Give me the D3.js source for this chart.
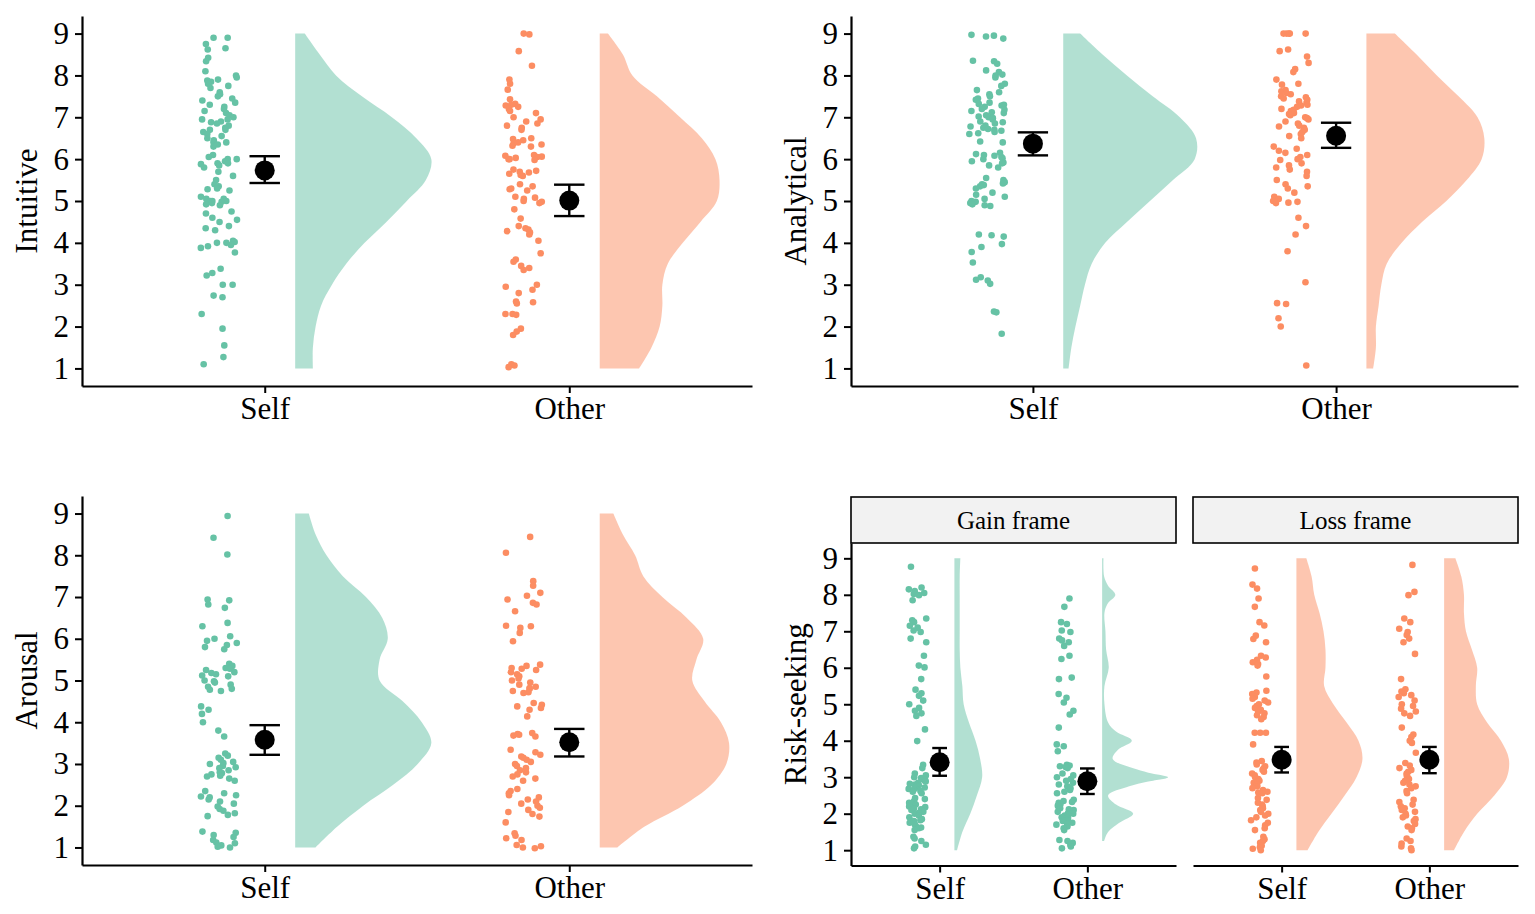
<!DOCTYPE html>
<html>
<head>
<meta charset="utf-8">
<script src="https://cdnjs.cloudflare.com/ajax/libs/d3/7.8.5/d3.min.js"></script>
<style>
  body { margin: 0; background: #fff; }
</style>
</head>
<body>
<div class="chart"></div>
<script>
const groups = ["Self", "Other"];
const yTicks = [1, 2, 3, 4, 5, 6, 7, 8, 9];
const densGrid = [1, 1.5, 2, 2.5, 3, 3.5, 4, 4.5, 5, 5.5, 6, 6.5, 7, 7.5, 8, 8.5, 9];
const serif = '"Liberation Serif", "Times New Roman", "DejaVu Serif", serif';

// raw scores
const intuitiveSelf = [8.9, 8.9, 8.75, 8.65, 8.62, 8.42, 8.34, 8.1, 8.0, 7.95, 7.9, 7.88, 7.85, 7.8, 7.75, 7.7, 7.6, 7.55, 7.5, 7.45, 7.4, 7.35, 7.3, 7.25, 7.2, 7.15, 7.1, 7.05, 7.0, 6.95, 6.95, 6.9, 6.88, 6.85, 6.8, 6.75, 6.7, 6.7, 6.65, 6.6, 6.55, 6.5, 6.45, 6.4, 6.4, 6.35, 6.3, 6.1, 6.05, 6.0, 6.0, 5.95, 5.9, 5.9, 5.88, 5.85, 5.8, 5.7, 5.6, 5.5, 5.4, 5.35, 5.3, 5.28, 5.25, 5.1, 5.05, 5.05, 5.0, 5.0, 5.0, 4.98, 4.95, 4.92, 4.9, 4.75, 4.7, 4.6, 4.55, 4.5, 4.4, 4.35, 4.3, 4.05, 4.02, 4.0, 4.0, 3.95, 3.92, 3.88, 3.77, 3.38, 3.28, 3.22, 3.0, 3.0, 2.74, 2.7, 2.3, 1.95, 1.55, 1.27, 1.1];
const intuitiveOther = [9.0, 8.98, 8.58, 8.23, 7.9, 7.8, 7.66, 7.43, 7.32, 7.3, 7.28, 7.25, 7.2, 7.15, 7.1, 7.0, 6.95, 6.9, 6.85, 6.8, 6.75, 6.7, 6.5, 6.48, 6.45, 6.4, 6.38, 6.35, 6.32, 6.3, 6.1, 6.08, 6.06, 6.05, 6.03, 6.0, 6.0, 5.98, 5.75, 5.72, 5.7, 5.68, 5.65, 5.62, 5.6, 5.4, 5.35, 5.3, 5.28, 5.25, 5.1, 5.08, 5.05, 5.0, 4.98, 4.95, 4.8, 4.58, 4.4, 4.35, 4.32, 4.28, 4.25, 4.2, 4.05, 3.75, 3.6, 3.55, 3.45, 3.4, 3.35, 3.0, 2.95, 2.88, 2.8, 2.6, 2.58, 2.55, 2.3, 2.3, 2.28, 1.95, 1.88, 1.8, 1.1, 1.07, 1.03];
const analyticalSelf = [8.97, 8.95, 8.93, 8.88, 8.35, 8.34, 8.28, 8.12, 8.08, 8.02, 8.0, 7.95, 7.8, 7.75, 7.65, 7.6, 7.55, 7.5, 7.45, 7.42, 7.35, 7.32, 7.3, 7.28, 7.25, 7.2, 7.18, 7.15, 7.12, 7.1, 7.05, 7.02, 7.0, 6.98, 6.95, 6.9, 6.88, 6.85, 6.8, 6.78, 6.75, 6.72, 6.7, 6.68, 6.65, 6.62, 6.6, 6.42, 6.4, 6.15, 6.12, 6.1, 6.08, 6.05, 6.02, 6.0, 5.95, 5.92, 5.9, 5.85, 5.8, 5.55, 5.5, 5.45, 5.42, 5.4, 5.38, 5.35, 5.3, 5.2, 5.15, 5.1, 5.05, 5.0, 4.98, 4.95, 4.92, 4.9, 4.88, 4.2, 4.18, 4.15, 3.97, 3.9, 3.78, 3.53, 3.18, 3.12, 3.1, 3.02, 2.36, 2.34, 1.83];
const analyticalOther = [9.0, 9.0, 9.0, 9.0, 9.0, 8.62, 8.58, 8.45, 8.3, 8.15, 8.08, 7.9, 7.8, 7.78, 7.65, 7.62, 7.58, 7.55, 7.5, 7.48, 7.45, 7.42, 7.38, 7.35, 7.3, 7.28, 7.25, 7.2, 7.18, 7.15, 7.1, 7.08, 7.05, 7.0, 6.98, 6.95, 6.9, 6.85, 6.8, 6.78, 6.75, 6.7, 6.65, 6.6, 6.55, 6.5, 6.3, 6.25, 6.2, 6.15, 6.1, 6.05, 6.0, 5.98, 5.9, 5.85, 5.8, 5.75, 5.7, 5.6, 5.5, 5.4, 5.35, 5.3, 5.2, 5.1, 5.05, 5.0, 4.98, 4.96, 4.95, 4.6, 4.4, 4.2, 3.8, 3.06, 2.56, 2.54, 2.2, 2.0, 1.07];
const arousalSelf = [8.94, 8.42, 8.02, 6.94, 6.92, 6.82, 6.74, 6.38, 6.3, 6.06, 6.0, 5.95, 5.9, 5.85, 5.8, 5.75, 5.4, 5.35, 5.3, 5.28, 5.25, 5.2, 5.18, 5.15, 5.12, 5.1, 5.0, 4.98, 4.95, 4.9, 4.85, 4.8, 4.78, 4.75, 4.38, 4.3, 4.2, 4.0, 3.8, 3.66, 3.25, 3.2, 3.15, 3.1, 3.05, 3.02, 3.0, 2.95, 2.92, 2.9, 2.85, 2.8, 2.78, 2.75, 2.72, 2.7, 2.65, 2.6, 2.35, 2.3, 2.25, 2.22, 2.2, 2.15, 2.1, 2.05, 1.98, 1.92, 1.88, 1.82, 1.78, 1.75, 1.38, 1.35, 1.3, 1.25, 1.18, 1.12, 1.1, 1.05, 1.02, 1.0];
const arousalOther = [8.44, 8.06, 7.38, 7.27, 7.1, 7.03, 6.94, 6.86, 6.82, 6.66, 6.31, 6.3, 6.26, 6.14, 5.94, 5.38, 5.35, 5.3, 5.28, 5.25, 5.2, 5.15, 5.1, 5.05, 5.0, 4.95, 4.9, 4.85, 4.82, 4.8, 4.75, 4.72, 4.7, 4.46, 4.42, 4.38, 4.34, 4.3, 4.14, 3.74, 3.72, 3.7, 3.68, 3.66, 3.34, 3.28, 3.22, 3.18, 3.15, 3.1, 3.05, 3.0, 2.95, 2.9, 2.85, 2.8, 2.75, 2.7, 2.65, 2.6, 2.4, 2.35, 2.3, 2.25, 2.2, 2.15, 2.1, 2.05, 2.0, 1.95, 1.9, 1.85, 1.8, 1.74, 1.6, 1.34, 1.28, 1.22, 1.18, 1.06, 1.03, 1.0, 0.98];
const gainSelf = [8.77, 8.2, 8.15, 8.1, 8.05, 8.02, 7.99, 7.85, 7.35, 7.3, 7.25, 7.15, 7.1, 7.02, 6.98, 6.8, 6.7, 6.33, 6.06, 6.01, 5.69, 5.4, 5.3, 5.23, 5.1, 5.0, 4.9, 4.82, 4.75, 4.68, 4.31, 3.99, 3.34, 3.25, 3.1, 3.05, 3.0, 2.98, 2.95, 2.92, 2.9, 2.88, 2.85, 2.82, 2.8, 2.78, 2.75, 2.72, 2.7, 2.68, 2.65, 2.62, 2.6, 2.56, 2.43, 2.4, 2.35, 2.3, 2.28, 2.25, 2.2, 2.18, 2.15, 2.12, 2.1, 2.08, 2.05, 2.02, 2.01, 2.0, 1.95, 1.9, 1.85, 1.82, 1.8, 1.75, 1.7, 1.65, 1.62, 1.6, 1.55, 1.37, 1.32, 1.25, 1.15, 1.1, 1.05];
const gainOther = [7.9, 7.67, 7.25, 7.2, 7.02, 6.98, 6.8, 6.75, 6.7, 6.6, 6.33, 6.24, 5.73, 5.69, 5.28, 5.18, 5.05, 4.82, 4.72, 4.36, 3.9, 3.85, 3.71, 3.34, 3.32, 3.3, 3.28, 3.25, 3.1, 3.05, 3.0, 2.95, 2.9, 2.85, 2.8, 2.75, 2.7, 2.65, 2.6, 2.56, 2.38, 2.35, 2.32, 2.3, 2.25, 2.22, 2.2, 2.15, 2.12, 2.1, 2.05, 2.02, 2.0, 1.98, 1.95, 1.92, 1.9, 1.88, 1.85, 1.82, 1.8, 1.75, 1.72, 1.7, 1.65, 1.6, 1.55, 1.28, 1.25, 1.2, 1.15, 1.1, 1.05];
const lossSelf = [8.72, 8.28, 8.17, 7.9, 7.67, 7.25, 7.16, 6.88, 6.79, 6.7, 6.33, 6.28, 6.22, 6.15, 6.1, 6.06, 5.76, 5.37, 5.32, 5.28, 5.2, 5.15, 5.1, 5.05, 5.0, 4.95, 4.9, 4.85, 4.8, 4.75, 4.7, 4.65, 4.59, 4.22, 4.22, 4.22, 3.9, 3.44, 3.4, 3.35, 3.3, 3.25, 3.2, 3.15, 3.1, 3.05, 3.0, 2.95, 2.9, 2.85, 2.8, 2.75, 2.7, 2.65, 2.6, 2.58, 2.56, 2.43, 2.38, 2.3, 2.25, 2.2, 2.15, 2.1, 2.05, 2.0, 1.95, 1.9, 1.82, 1.75, 1.68, 1.6, 1.55, 1.37, 1.3, 1.25, 1.2, 1.12, 1.08, 1.04, 1.0];
const lossOther = [8.82, 8.08, 7.99, 7.35, 7.25, 7.07, 6.98, 6.9, 6.8, 6.7, 6.38, 5.69, 5.41, 5.35, 5.3, 5.25, 5.2, 5.1, 5.0, 4.95, 4.88, 4.8, 4.75, 4.68, 4.36, 4.17, 4.1, 4.0, 3.94, 3.67, 3.39, 3.32, 3.25, 3.2, 3.15, 3.1, 3.05, 3.0, 2.95, 2.9, 2.85, 2.8, 2.75, 2.7, 2.62, 2.56, 2.38, 2.32, 2.25, 2.2, 2.15, 2.1, 2.05, 2.0, 1.95, 1.9, 1.85, 1.8, 1.72, 1.65, 1.6, 1.55, 1.32, 1.25, 1.18, 1.1, 1.05, 1.0];

// relative density (1 = widest half-violin), on densGrid unless paired
const intuitiveSelfDens = [0.13, 0.13, 0.15, 0.19, 0.27, 0.375, 0.51, 0.67, 0.82, 0.96, 1.0, 0.89, 0.71, 0.49, 0.30, 0.18, 0.07];
const intuitiveOtherDens = [0.29, 0.38, 0.44, 0.46, 0.46, 0.50, 0.61, 0.74, 0.86, 0.88, 0.85, 0.75, 0.59, 0.42, 0.24, 0.17, 0.06];
const analyticalSelfDens = [0.04, 0.06, 0.09, 0.125, 0.16, 0.21, 0.31, 0.47, 0.64, 0.81, 0.97, 0.98, 0.86, 0.66, 0.47, 0.29, 0.125];
const analyticalOtherDens = [0.05, 0.07, 0.07, 0.09, 0.11, 0.15, 0.26, 0.41, 0.59, 0.74, 0.85, 0.87, 0.82, 0.68, 0.52, 0.37, 0.21];
const arousalSelfDens = [0.15, 0.31, 0.50, 0.72, 0.90, 1.0, 0.93, 0.79, 0.62, 0.62, 0.68, 0.64, 0.52, 0.35, 0.23, 0.15, 0.10];
const arousalOtherDens = [0.13, 0.33, 0.61, 0.82, 0.93, 0.95, 0.89, 0.77, 0.68, 0.71, 0.76, 0.64, 0.46, 0.32, 0.26, 0.17, 0.10];
const gainSelfDens = [0.04, 0.12, 0.24, 0.34, 0.42, 0.39, 0.32, 0.22, 0.14, 0.12, 0.09, 0.08, 0.08, 0.08, 0.08, 0.08, 0.09];
const gainOtherGrid = [1.25, 1.5, 1.75, 2, 2.25, 2.5, 2.75, 2.875, 3, 3.125, 3.25, 3.5, 3.75, 4, 4.25, 4.5, 5, 5.5, 6, 6.5, 7, 7.5, 7.75, 8, 8.25, 8.5, 9];
const gainOtherDens = [0.03, 0.09, 0.26, 0.47, 0.21, 0.09, 0.41, 0.68, 1.0, 0.70, 0.46, 0.16, 0.24, 0.45, 0.21, 0.09, 0.035, 0.035, 0.10, 0.06, 0.05, 0.035, 0.08, 0.20, 0.09, 0.03, 0.02];
const lossSelfDens = [0.17, 0.33, 0.53, 0.73, 0.91, 1.0, 0.94, 0.76, 0.56, 0.42, 0.44, 0.44, 0.41, 0.35, 0.27, 0.23, 0.15];
const lossOtherDens = [0.15, 0.30, 0.50, 0.76, 0.95, 0.98, 0.86, 0.65, 0.50, 0.48, 0.50, 0.42, 0.33, 0.30, 0.30, 0.26, 0.17];

// means with error bar limits [Self, Other]
const intuitiveMean = [5.73, 5.01], intuitiveLo = [5.43, 4.64], intuitiveHi = [6.07, 5.39];
const analyticalMean = [6.37, 6.56], analyticalLo = [6.09, 6.27], analyticalHi = [6.64, 6.87];
const arousalMean = [3.58, 3.52], arousalLo = [3.22, 3.18], arousalHi = [3.93, 3.84];
const gainMean = [3.41, 2.89], gainLo = [3.04, 2.54], gainHi = [3.80, 3.24];
const lossMean = [3.48, 3.48], lossLo = [3.13, 3.11], lossHi = [3.83, 3.83];

const green = "#66C2A5", orange = "#FC8D62";

const zip = (g, d) => g.map((v, i) => [v, d[i]]);

const panels = [
  { x0: 82, x1: 752, y0: 16, y1: 386, title: "Intuitive", yAxis: true,
    raw: [intuitiveSelf, intuitiveOther], dens: [zip(densGrid, intuitiveSelfDens), zip(densGrid, intuitiveOtherDens)],
    mean: intuitiveMean, lo: intuitiveLo, hi: intuitiveHi, colors: [green, orange] },
  { x0: 851, x1: 1518, y0: 16, y1: 386, title: "Analytical", yAxis: true,
    raw: [analyticalSelf, analyticalOther], dens: [zip(densGrid, analyticalSelfDens), zip(densGrid, analyticalOtherDens)],
    mean: analyticalMean, lo: analyticalLo, hi: analyticalHi, colors: [green, orange] },
  { x0: 82, x1: 752, y0: 496, y1: 865, title: "Arousal", yAxis: true,
    raw: [arousalSelf, arousalOther], dens: [zip(densGrid, arousalSelfDens), zip(densGrid, arousalOtherDens)],
    mean: arousalMean, lo: arousalLo, hi: arousalHi, colors: [green, orange] },
  { x0: 851, x1: 1176, y0: 543, y1: 865.5, title: "Risk-seeking", yAxis: true, strip: "Gain frame",
    raw: [gainSelf, gainOther], dens: [zip(densGrid, gainSelfDens), zip(gainOtherGrid, gainOtherDens)],
    mean: gainMean, lo: gainLo, hi: gainHi, colors: [green, green] },
  { x0: 1193, x1: 1518, y0: 543, y1: 865.5, title: null, yAxis: false, strip: "Loss frame",
    raw: [lossSelf, lossOther], dens: [zip(densGrid, lossSelfDens), zip(densGrid, lossOtherDens)],
    mean: lossMean, lo: lossLo, hi: lossHi, colors: [orange, orange] }
];

const svg = d3.select(".chart").append("svg")
  .attr("width", 1535).attr("height", 914)
  .style("font-family", serif);

const jitter = d3.randomUniform.source(d3.randomLcg(0.42))(-0.06, 0.06);

panels.forEach((p) => {
  const x = d3.scalePoint().domain(groups).range([p.x0, p.x1]).padding(0.6);
  const y = d3.scaleLinear().domain([0.58, 9.42]).range([p.y1, p.y0]);
  const step = x.step();
  const g = svg.append("g");

  // strip
  if (p.strip) {
    g.append("rect")
      .attr("x", p.x0).attr("y", 497).attr("width", p.x1 - p.x0).attr("height", p.y0 - 497)
      .attr("fill", "#F2F2F2").attr("stroke", "#000").attr("stroke-width", 1.6);
    g.append("text")
      .attr("x", (p.x0 + p.x1) / 2).attr("y", (497 + p.y0) / 2)
      .attr("dy", "0.35em").attr("text-anchor", "middle")
      .style("font-family", serif).style("font-size", "25px").text(p.strip);
  }

  groups.forEach((grp, i) => {
    const cx = x(grp);
    // half violin
    const area = d3.area()
      .curve(d3.curveCatmullRom)
      .y((d) => y(d[0]))
      .x0(cx + 0.1 * step)
      .x1((d) => cx + 0.1 * step + d[1] * 0.447 * step);
    g.append("path")
      .datum(p.dens[i])
      .attr("d", area)
      .attr("fill", p.colors[i]).attr("fill-opacity", 0.5);

    // jittered raw points
    g.selectAll(null)
      .data(p.raw[i])
      .enter()
      .append("circle")
      .attr("cx", () => cx + (-0.15 + jitter()) * step)
      .attr("cy", (d) => y(d))
      .attr("r", 3.3)
      .attr("fill", p.colors[i]);

    // error bar
    const cap = 0.05 * step;
    g.append("line")
      .attr("x1", cx).attr("x2", cx)
      .attr("y1", y(p.lo[i])).attr("y2", y(p.hi[i]))
      .attr("stroke", "#000").attr("stroke-width", 2.4);
    [p.lo[i], p.hi[i]].forEach((v) => {
      g.append("line")
        .attr("x1", cx - cap).attr("x2", cx + cap)
        .attr("y1", y(v)).attr("y2", y(v))
        .attr("stroke", "#000").attr("stroke-width", 2.4);
    });
    g.append("circle")
      .attr("cx", cx).attr("cy", y(p.mean[i]))
      .attr("r", 10).attr("fill", "#000");
  });

  // axes
  const xAxis = g.append("g")
    .attr("transform", `translate(0,${p.y1})`)
    .call(d3.axisBottom(x).tickSize(7).tickSizeOuter(0).tickPadding(4))
    .attr("font-family", serif);
  xAxis.selectAll("text").style("font-family", serif).style("font-size", "31px");

  if (p.yAxis) {
    const yAxis = g.append("g")
      .attr("transform", `translate(${p.x0},0)`)
      .call(d3.axisLeft(y).tickValues(yTicks).tickSize(7).tickSizeOuter(0).tickPadding(6))
      .attr("font-family", serif);
    yAxis.selectAll("text").style("font-family", serif).style("font-size", "31px");
    g.append("text")
      .attr("transform", `translate(${p.x0 - 45},${(p.y0 + p.y1) / 2}) rotate(-90)`)
      .attr("text-anchor", "middle")
      .style("font-family", serif)
      .style("font-size", "31px")
      .text(p.title);
  }

  g.selectAll(".domain").attr("stroke", "#000").attr("stroke-width", 2.2);
  g.selectAll(".tick line").attr("stroke", "#000").attr("stroke-width", 2);
  g.selectAll(".tick text").attr("fill", "#000");
});
</script>
</body>
</html>
